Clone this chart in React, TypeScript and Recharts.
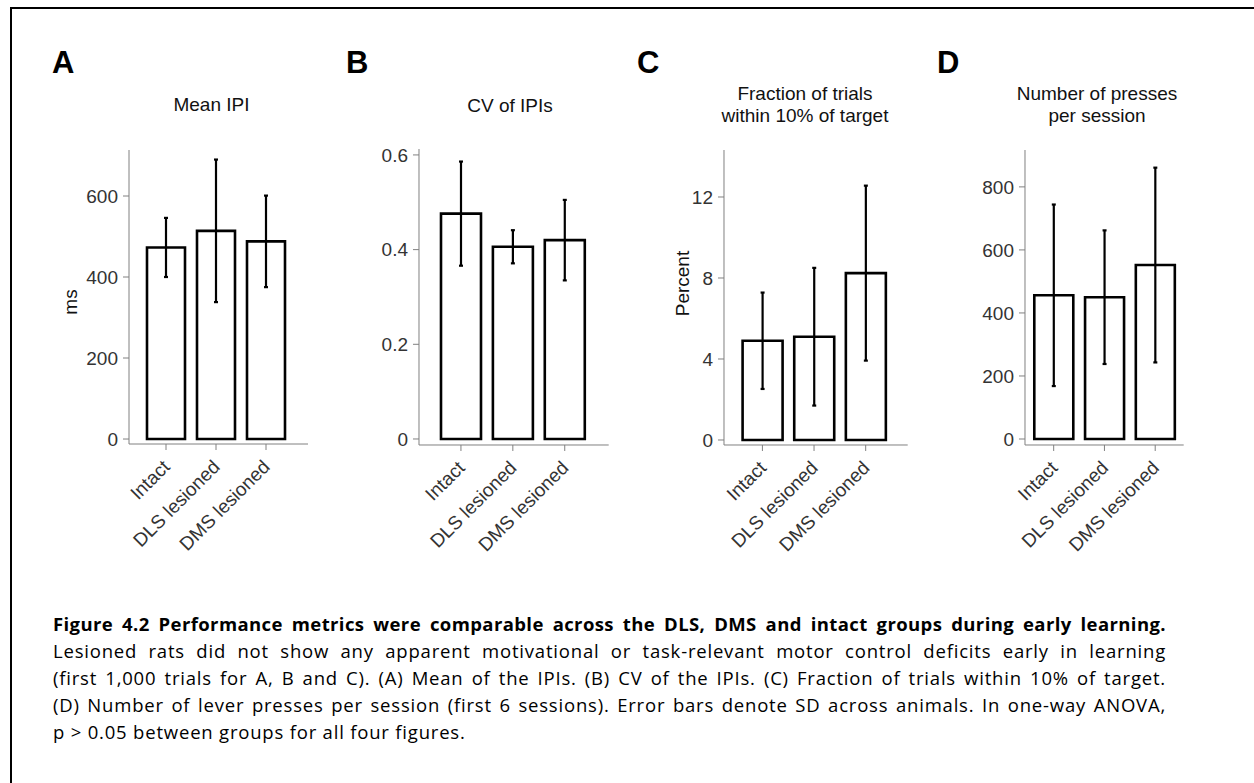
import React from 'react'
import { BarChart, Bar, XAxis, YAxis, ErrorBar } from 'recharts'

const groups = ['Intact', 'DLS lesioned', 'DMS lesioned']

const meanIpi = [473, 514, 488]
const meanIpiSd = [73, 176, 113]
const meanIpiTicks = [0, 200, 400, 600]
const meanIpiDomain = [-12.3, 713.6]

const cvIpi = [0.476, 0.406, 0.42]
const cvIpiSd = [0.11, 0.035, 0.085]
const cvIpiTicks = [0, 0.2, 0.4, 0.6]
const cvIpiDomain = [-0.0127, 0.6125]

const fracTrials = [4.9, 5.1, 8.24]
const fracTrialsSd = [2.38, 3.4, 4.32]
const fracTrialsTicks = [0, 4, 8, 12]
const fracTrialsDomain = [-0.247, 14.32]

const presses = [456, 450, 552]
const pressesSd = [288, 212, 309]
const pressesTicks = [0, 200, 400, 600, 800]
const pressesDomain = [-19, 917]

const FONT = '"Liberation Sans", Arial, Helvetica, sans-serif'
const AXIS = '#808080'
const TXT = '#333'
const YW = 90

const rows = (vals: number[], sd: number[]) => groups.map((g, i) => ({ group: g, value: vals[i], sd: sd[i] }))

const RotTick = (props: any) => {
  const { x, y, payload } = props
  return (
    <g transform={`translate(${x + 5},${y + 16}) rotate(-45)`}>
      <text x={0} y={0} textAnchor="end" fill={TXT} fontSize={19} fontFamily={FONT}>{payload.value}</text>
    </g>
  )
}

function Panel({ vals, sd, ticks, domain, axisX, top, bottom, right, padL, padR, barSize, yLabel, labelDx, labelDy }: any) {
  const w = YW + (right - axisX) + 10
  const h = 10 + (bottom - top) + 140
  return (
    <div style={{ position: 'absolute', left: axisX - YW, top: top - 10 }}>
      <BarChart width={w} height={h} data={rows(vals, sd)} margin={{ top: 10, right: 10, left: 0, bottom: 0 }}>
        <XAxis dataKey="group" height={140} padding={{ left: padL, right: padR }}
          axisLine={{ stroke: AXIS }} tickLine={{ stroke: AXIS }} tickSize={6} tick={<RotTick />} interval={0} />
        <YAxis width={YW} type="number" domain={domain} ticks={ticks} allowDataOverflow
          axisLine={{ stroke: AXIS }} tickLine={{ stroke: AXIS }} tickSize={6} tickMargin={5}
          tick={{ fill: TXT, fontSize: 19, fontFamily: FONT }}
          label={yLabel ? { value: yLabel, angle: -90, position: 'center', dx: labelDx, dy: labelDy, fill: '#111', fontSize: 19, fontFamily: FONT } : undefined} />
        <Bar dataKey="value" fill="#fff" stroke="#000" strokeWidth={2.6} barSize={barSize} isAnimationActive={false}>
          <ErrorBar dataKey="sd" width={2} stroke="#000" strokeWidth={2.2} isAnimationActive={false} />
        </Bar>
      </BarChart>
    </div>
  )
}

const captionLines = [
  'Lesioned rats did not show any apparent motivational or task-relevant motor control deficits early in learning',
  '(first 1,000 trials for A, B and C). (A) Mean of the IPIs. (B) CV of the IPIs. (C) Fraction of trials within 10% of target.',
  '(D) Number of lever presses per session (first 6 sessions). Error bars denote SD across animals. In one-way ANOVA,',
]

export default function App() {
  const title = (lines: string[], cx: number, base: number) => (
    <text textAnchor="middle" fill="#111" fontSize={19} fontFamily={FONT}>
      {lines.map((l, i) => <tspan key={i} x={cx} y={base + i * 22}>{l}</tspan>)}
    </text>
  )
  return (
    <div style={{ position: 'absolute', left: 0, top: 0, width: 1254, height: 783, overflow: 'hidden', background: '#fff' }}>
      <div style={{ position: 'absolute', left: 10, top: 7, width: 1400, height: 1000, border: '2.5px solid #000' }} />

      <svg width={1254} height={140} style={{ position: 'absolute', left: 0, top: 0 }}>
        <g fontFamily={FONT} fontWeight="bold" fontSize={31} fill="#000">
          <text x={52} y={73}>A</text>
          <text x={346} y={73}>B</text>
          <text x={637} y={73}>C</text>
          <text x={937} y={73}>D</text>
        </g>
        {title(['Mean IPI'], 211.5, 111)}
        {title(['CV of IPIs'], 510, 111.5)}
        {title(['Fraction of trials', 'within 10% of target'], 805, 100)}
        {title(['Number of presses', 'per session'], 1097, 100)}
      </svg>

      <Panel vals={meanIpi} sd={meanIpiSd} ticks={meanIpiTicks} domain={meanIpiDomain}
        axisX={129} top={150} bottom={444} right={308} padL={12} padR={17} barSize={38} yLabel="ms" labelDx={-14} labelDy={5} />
      <Panel vals={cvIpi} sd={cvIpiSd} ticks={cvIpiTicks} domain={cvIpiDomain}
        axisX={419.3} top={149} bottom={445} right={609} padL={16} padR={18} barSize={40} />
      <Panel vals={fracTrials} sd={fracTrialsSd} ticks={fracTrialsTicks} domain={fracTrialsDomain}
        axisX={724.3} top={150} bottom={445} right={908} padL={12.6} padR={16.2} barSize={40} yLabel="Percent" labelDx={3} labelDy={-14} />
      <Panel vals={presses} sd={pressesSd} ticks={pressesTicks} domain={pressesDomain}
        axisX={1025.3} top={150} bottom={445} right={1184} padL={3.3} padR={3.1} barSize={39} />

      <div style={{ position: 'absolute', left: 53, top: 610, width: 1113, fontFamily: '"Open Sans", Lato, sans-serif', fontSize: 18.5, lineHeight: '27px', color: '#000' }}>
        <div style={{ fontWeight: 'bold', whiteSpace: 'nowrap', textAlign: 'justify', textAlignLast: 'justify', letterSpacing: 0.4 }}>
          Figure 4.2 Performance metrics were comparable across the DLS, DMS and intact groups during early learning.
        </div>
        {captionLines.map((l, i) => (
          <div key={i} style={{ whiteSpace: 'nowrap', textAlign: 'justify', textAlignLast: 'justify', letterSpacing: 0.8 }}>{l}</div>
        ))}
        <div style={{ whiteSpace: 'nowrap', letterSpacing: 0.8 }}>p &gt; 0.05 between groups for all four figures.</div>
      </div>
    </div>
  )
}
